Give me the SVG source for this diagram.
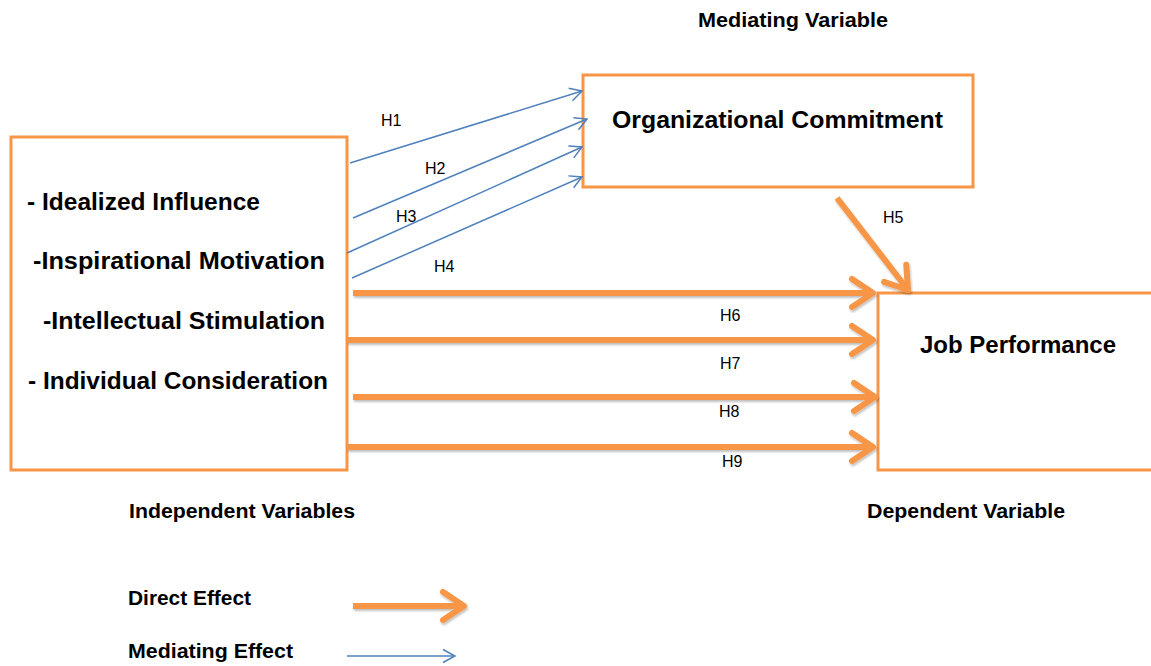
<svg xmlns="http://www.w3.org/2000/svg" width="1151" height="666" viewBox="0 0 1151 666">
<style>
.box{fill:#fff;stroke:#F79646;stroke-width:3}
.big{font-family:"Liberation Sans",Arial,sans-serif;font-weight:bold;fill:#000}
.lbl{font-family:"Liberation Sans",Arial,sans-serif;font-size:16px;fill:#000}
.dir{stroke:#F79646;stroke-width:6;fill:none;filter:url(#sh)}
.med{stroke:#4F81BD;stroke-width:1.5;fill:none}
</style>
<defs>
<filter id="sh" filterUnits="userSpaceOnUse" x="0" y="0" width="1151" height="666">
<feDropShadow dx="1" dy="2" stdDeviation="1.2" flood-color="#000" flood-opacity="0.25"/>
</filter>
<marker id="ah" markerUnits="userSpaceOnUse" markerWidth="40" markerHeight="40" viewBox="-30 -20 40 40" refX="0" refY="0" orient="auto">
<path d="M-21,-14 L0,0 L-21,14" fill="none" stroke="#F79646" stroke-width="6" stroke-linecap="round" stroke-linejoin="round"/>
</marker>
<marker id="bh" markerUnits="userSpaceOnUse" markerWidth="20" markerHeight="20" viewBox="-15 -10 20 20" refX="0" refY="0" orient="auto">
<path d="M-12,-6.5 L0,0 L-12,6.5" fill="none" stroke="#4F81BD" stroke-width="1.5"/>
</marker>
</defs>
<rect width="1151" height="666" fill="#fff"/>

<g id="independent">
<rect class="box" x="11" y="137" width="336" height="333"/>
<text class="big" x="27" y="210" font-size="24" textLength="233" lengthAdjust="spacingAndGlyphs">- Idealized Influence</text>
<text class="big" x="33" y="269" font-size="24" textLength="292" lengthAdjust="spacingAndGlyphs">-Inspirational Motivation</text>
<text class="big" x="43" y="329" font-size="24" textLength="282" lengthAdjust="spacingAndGlyphs">-Intellectual Stimulation</text>
<text class="big" x="28" y="389" font-size="24" textLength="300" lengthAdjust="spacingAndGlyphs">- Individual Consideration</text>
</g>

<g id="mediating">
<rect class="box" x="583" y="75" width="390" height="112"/>
<text class="big" x="612" y="128" font-size="24" textLength="331" lengthAdjust="spacingAndGlyphs">Organizational Commitment</text>
</g>

<g id="dependent">
<rect class="box" x="878" y="293" width="290" height="177"/>
<text class="big" x="920" y="353" font-size="24" textLength="196" lengthAdjust="spacingAndGlyphs">Job Performance</text>
</g>

<g id="captions">
<text class="big" x="698" y="27" font-size="20" textLength="190" lengthAdjust="spacingAndGlyphs">Mediating Variable</text>
<text class="big" x="129" y="518" font-size="20" textLength="226" lengthAdjust="spacingAndGlyphs">Independent Variables</text>
<text class="big" x="867" y="518" font-size="20" textLength="198" lengthAdjust="spacingAndGlyphs">Dependent Variable</text>
</g>

<g id="connectors">
<line class="med" x1="350" y1="163" x2="582" y2="91" marker-end="url(#bh)"/>
<line class="med" x1="353" y1="218" x2="587" y2="119" marker-end="url(#bh)"/>
<line class="med" x1="347" y1="253" x2="582" y2="147" marker-end="url(#bh)"/>
<line class="med" x1="352" y1="278" x2="582" y2="177" marker-end="url(#bh)"/>
<line class="dir" x1="837" y1="198" x2="908" y2="290" marker-end="url(#ah)"/>
<line class="dir" x1="353" y1="293" x2="873" y2="293" marker-end="url(#ah)"/>
<line class="dir" x1="347" y1="340" x2="873" y2="340" marker-end="url(#ah)"/>
<line class="dir" x1="353" y1="397" x2="875" y2="397" marker-end="url(#ah)"/>
<line class="dir" x1="347" y1="447" x2="873" y2="447" marker-end="url(#ah)"/>
</g>

<g id="labels">
<text class="lbl" x="381" y="126">H1</text>
<text class="lbl" x="425" y="174">H2</text>
<text class="lbl" x="396" y="222">H3</text>
<text class="lbl" x="434" y="272">H4</text>
<text class="lbl" x="883" y="223">H5</text>
<text class="lbl" x="720" y="321">H6</text>
<text class="lbl" x="720" y="369">H7</text>
<text class="lbl" x="719" y="417">H8</text>
<text class="lbl" x="722" y="467">H9</text>
</g>

<g id="legend">
<text class="big" x="128" y="605" font-size="20" textLength="123" lengthAdjust="spacingAndGlyphs">Direct Effect</text>
<text class="big" x="128" y="658" font-size="20" textLength="165" lengthAdjust="spacingAndGlyphs">Mediating Effect</text>
<line class="dir" x1="353" y1="606" x2="464" y2="606" marker-end="url(#ah)"/>
<line class="med" x1="347" y1="656" x2="455" y2="656" marker-end="url(#bh)"/>
</g>
</svg>
